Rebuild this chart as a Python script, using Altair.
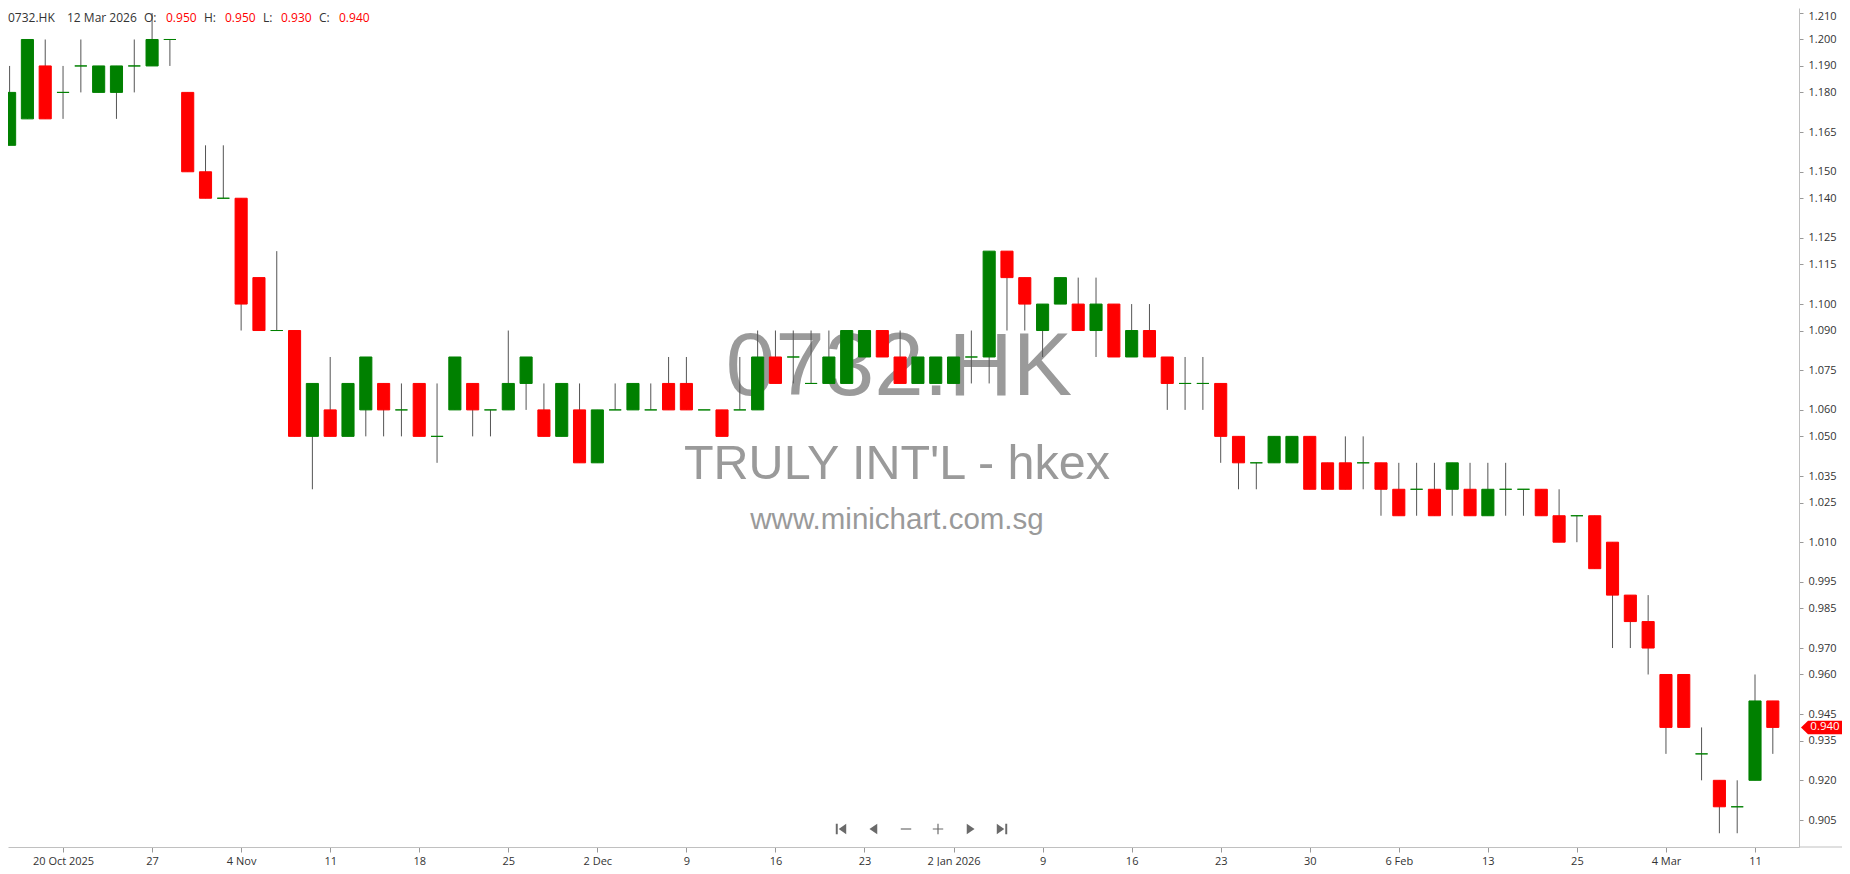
import altair as alt
import pandas as pd

# ---------------- data ----------------
opens = [1.16, 1.17, 1.19, 1.18, 1.19, 1.18, 1.18, 1.19, 1.19, 1.20,
         1.18, 1.15, 1.14, 1.14, 1.11, 1.09, 1.09, 1.05, 1.06, 1.05,
         1.06, 1.07, 1.06, 1.07, 1.05, 1.06, 1.07, 1.06, 1.06, 1.07,
         1.06, 1.05, 1.06, 1.04, 1.06, 1.06, 1.06, 1.07, 1.07, 1.06,
         1.06, 1.06, 1.06, 1.08, 1.08, 1.07, 1.07, 1.07, 1.08, 1.09,
         1.08, 1.07, 1.07, 1.07, 1.08, 1.08, 1.12, 1.11, 1.09, 1.10,
         1.10, 1.09, 1.10, 1.08, 1.09, 1.08, 1.07, 1.07, 1.07, 1.05,
         1.04, 1.04, 1.04, 1.05, 1.04, 1.04, 1.04, 1.04, 1.03, 1.03,
         1.03, 1.03, 1.03, 1.02, 1.03, 1.03, 1.03, 1.02, 1.02, 1.02,
         1.01, 0.99, 0.98, 0.96, 0.96, 0.93, 0.92, 0.91, 0.92, 0.95]
highs = [1.19, 1.20, 1.20, 1.19, 1.20, 1.19, 1.19, 1.20, 1.21, 1.20,
         1.18, 1.16, 1.16, 1.14, 1.11, 1.12, 1.09, 1.07, 1.08, 1.07,
         1.08, 1.07, 1.07, 1.07, 1.07, 1.08, 1.07, 1.06, 1.09, 1.08,
         1.07, 1.07, 1.07, 1.06, 1.07, 1.07, 1.07, 1.08, 1.08, 1.06,
         1.06, 1.08, 1.09, 1.09, 1.09, 1.09, 1.09, 1.09, 1.09, 1.09,
         1.09, 1.08, 1.08, 1.08, 1.09, 1.12, 1.12, 1.11, 1.10, 1.11,
         1.11, 1.11, 1.10, 1.10, 1.10, 1.08, 1.08, 1.08, 1.07, 1.05,
         1.04, 1.05, 1.05, 1.05, 1.04, 1.05, 1.05, 1.04, 1.04, 1.04,
         1.04, 1.04, 1.04, 1.04, 1.04, 1.03, 1.03, 1.03, 1.02, 1.02,
         1.01, 0.99, 0.99, 0.96, 0.96, 0.94, 0.92, 0.92, 0.96, 0.95]
lows = [1.16, 1.17, 1.17, 1.17, 1.18, 1.18, 1.17, 1.18, 1.19, 1.19,
        1.15, 1.14, 1.14, 1.09, 1.09, 1.09, 1.05, 1.03, 1.05, 1.05,
        1.05, 1.05, 1.05, 1.05, 1.04, 1.06, 1.05, 1.05, 1.06, 1.06,
        1.05, 1.05, 1.04, 1.04, 1.06, 1.06, 1.06, 1.06, 1.06, 1.06,
        1.05, 1.06, 1.06, 1.07, 1.07, 1.07, 1.07, 1.07, 1.08, 1.08,
        1.07, 1.07, 1.07, 1.07, 1.07, 1.07, 1.09, 1.09, 1.08, 1.10,
        1.09, 1.08, 1.08, 1.08, 1.08, 1.06, 1.06, 1.06, 1.04, 1.03,
        1.03, 1.04, 1.04, 1.03, 1.03, 1.03, 1.03, 1.02, 1.02, 1.02,
        1.02, 1.02, 1.02, 1.02, 1.02, 1.02, 1.02, 1.01, 1.01, 1.00,
        0.97, 0.97, 0.96, 0.93, 0.94, 0.92, 0.90, 0.90, 0.92, 0.93]
closes = [1.18, 1.20, 1.17, 1.18, 1.19, 1.19, 1.19, 1.19, 1.20, 1.20,
          1.15, 1.14, 1.14, 1.10, 1.09, 1.09, 1.05, 1.07, 1.05, 1.07,
          1.08, 1.06, 1.06, 1.05, 1.05, 1.08, 1.06, 1.06, 1.07, 1.08,
          1.05, 1.07, 1.04, 1.06, 1.06, 1.07, 1.06, 1.06, 1.06, 1.06,
          1.05, 1.06, 1.08, 1.07, 1.08, 1.07, 1.08, 1.09, 1.09, 1.08,
          1.07, 1.08, 1.08, 1.08, 1.08, 1.12, 1.11, 1.10, 1.10, 1.11,
          1.09, 1.10, 1.08, 1.09, 1.08, 1.07, 1.07, 1.07, 1.05, 1.04,
          1.04, 1.05, 1.05, 1.03, 1.03, 1.03, 1.04, 1.03, 1.02, 1.03,
          1.02, 1.04, 1.02, 1.03, 1.03, 1.03, 1.02, 1.01, 1.02, 1.00,
          0.99, 0.98, 0.97, 0.94, 0.94, 0.93, 0.91, 0.91, 0.95, 0.94]

x_tick_index = [3, 8, 13, 18, 23, 28, 33, 38, 43, 48,
                53, 58, 63, 68, 73, 78, 83, 88, 93, 98]
x_tick_labels = ["20 Oct 2025", "27", "4 Nov", "11", "18", "25", "2 Dec", "9", "16", "23",
                 "2 Jan 2026", "9", "16", "23", "30", "6 Feb", "13", "25", "4 Mar", "11"]
y_tick_values = [1.210, 1.200, 1.190, 1.180, 1.165, 1.150, 1.140, 1.125, 1.115, 1.100,
                 1.090, 1.075, 1.060, 1.050, 1.035, 1.025, 1.010, 0.995, 0.985, 0.970,
                 0.960, 0.945, 0.935, 0.920, 0.905]

symbol = "0732.HK"
last_date = "12 Mar 2026"
company = "TRULY INT'L - hkex"
site = "www.minichart.com.sg"

# ---------------- layout ----------------
W, H = 1791, 839
FONT = "Open Sans"
UP, DOWN = "#008000", "#ff0000"

df = pd.DataFrame({"i": list(range(len(opens))), "open": opens, "high": highs,
                   "low": lows, "close": closes})
df["dir"] = ["up" if c >= o else "down" for o, c in zip(opens, closes)]

xs = alt.Scale(domain=[-0.09, 100.47], nice=False, zero=False)
ys = alt.Scale(domain=[0.8948, 1.2119], nice=False, zero=False)

label_expr = ("[" + ",".join("'" + s + "'" for s in x_tick_labels) + "]"
              + "[indexof([" + ",".join(str(v) for v in x_tick_index) + "], datum.value)]")

x_axis = alt.Axis(values=x_tick_index, labelExpr=label_expr, title=None, grid=False,
                  tickSize=5, tickColor="#999999", domainColor="#c0c0c0",
                  labelColor="#333333", labelFont=FONT, labelFontSize=11,
                  labelPadding=3, labelOverlap=False, labelFlush=False)
y_axis = alt.Axis(orient="right", values=y_tick_values, format=".3f", title=None, grid=False,
                  tickSize=4, tickColor="#999999", domainColor="#c0c0c0",
                  labelColor="#333333", labelFont=FONT, labelFontSize=11,
                  labelPadding=5, labelOverlap=False, labelFlush=False,
                  labelOffset=alt.condition("datum.value > 1.205", alt.value(3), alt.value(0)))

color_scale = alt.Scale(domain=["up", "down"], range=[UP, DOWN])

one = alt.InlineData(values=[{"a": 1}])

# watermark
wm = []
for txt, px, py, fs in [(symbol, 891, 360, 89), (company, 889, 456, 48.5), (site, 889, 512, 29.5)]:
    wm.append(alt.Chart(one).mark_text(text=txt, font="Liberation Sans", fontSize=fs,
                                       color="#9a9a9a", align="center", baseline="middle")
              .encode(x=alt.value(px), y=alt.value(py)))

base = alt.Chart(df)
wicks = base.mark_rule(color="#555555", strokeWidth=1).encode(
    x=alt.X("i:Q", scale=xs, axis=x_axis),
    y=alt.Y("low:Q", scale=ys, axis=y_axis),
    y2="high:Q",
)
bodies = base.transform_calculate(
    xl="datum.i - 0.34", xr="datum.i + 0.34"
).mark_rect(strokeWidth=1).encode(
    x=alt.X("xl:Q", scale=xs, axis=x_axis),
    x2="xr:Q",
    y=alt.Y("open:Q", scale=ys, axis=y_axis),
    y2="close:Q",
    color=alt.Color("dir:N", scale=color_scale, legend=None),
    stroke=alt.Stroke("dir:N", scale=color_scale, legend=None),
)

# header line
lo = opens[-1]; lh = highs[-1]; ll = lows[-1]; lc = closes[-1]
header_items = [(symbol, 0, "#333333"), (last_date, 59, "#333333"),
                ("O:", 136, "#333333"), (f"{lo:.3f}", 158, DOWN),
                ("H:", 196, "#333333"), (f"{lh:.3f}", 217, DOWN),
                ("L:", 255, "#333333"), (f"{ll:.3f}", 273, DOWN),
                ("C:", 311, "#333333"), (f"{lc:.3f}", 331, DOWN)]
header = []
for txt, px, col in header_items:
    header.append(alt.Chart(one).mark_text(text=txt, font=FONT, fontSize=12, color=col,
                                           align="left", baseline="middle")
                  .encode(x=alt.value(px), y=alt.value(10)))

# last price tag on the right axis
tag_df = pd.DataFrame({"c": [lc], "t": [f"{lc:.3f}"]})
tag_shape = "M-1,0 L-0.72,-0.27 L1,-0.27 L1,0.27 L-0.72,0.27 Z"
tag = alt.Chart(tag_df).mark_point(shape=tag_shape, filled=True, size=2500, color=DOWN,
                                   opacity=1).encode(
    x=alt.value(1818), y=alt.Y("c:Q", scale=ys, axis=y_axis))
tag_text = alt.Chart(tag_df).mark_text(font=FONT, fontSize=11.5, color="white",
                                       align="center", baseline="middle").encode(
    x=alt.value(1817), y=alt.Y("c:Q", scale=ys, axis=y_axis), text="t:N")

# navigation icons
icons = [
    (833, "M-0.8,-0.8 L-0.5,-0.8 L-0.5,0.8 L-0.8,0.8 Z M0.8,-0.8 L-0.35,0 L0.8,0.8 Z"),
    (866, "M0.5,-0.8 L-0.7,0 L0.5,0.8 Z"),
    (898, "M-0.8,-0.09 L0.8,-0.09 L0.8,0.09 L-0.8,0.09 Z"),
    (930, "M-0.8,-0.09 L-0.09,-0.09 L-0.09,-0.8 L0.09,-0.8 L0.09,-0.09 L0.8,-0.09 "
          "L0.8,0.09 L0.09,0.09 L0.09,0.8 L-0.09,0.8 L-0.09,0.09 L-0.8,0.09 Z"),
    (962, "M-0.5,-0.8 L0.7,0 L-0.5,0.8 Z"),
    (994, "M0.8,-0.8 L0.5,-0.8 L0.5,0.8 L0.8,0.8 Z M-0.8,-0.8 L0.35,0 L-0.8,0.8 Z"),
]
nav = []
for px, path in icons:
    nav.append(alt.Chart(one).mark_point(shape=path, filled=True, size=170, color="#6a6a6a",
                                         opacity=1)
               .encode(x=alt.value(px), y=alt.value(821)))

# extension of the bottom axis line to the right edge
ext = alt.Chart(one).mark_rule(color="#c0c0c0", strokeWidth=1).encode(
    x=alt.value(W), x2=alt.value(W + 60), y=alt.value(H))

chart = alt.layer(*wm, wicks, bodies, ext, tag, tag_text, *header, *nav).properties(
    width=W, height=H,
    autosize=alt.AutoSizeParams(type="none"),
    padding={"left": 0, "top": 0, "right": 43, "bottom": 19},
    background="white",
).configure_view(stroke=None)

chart.save("out.html", embed_options={"renderer": "svg", "actions": False})
